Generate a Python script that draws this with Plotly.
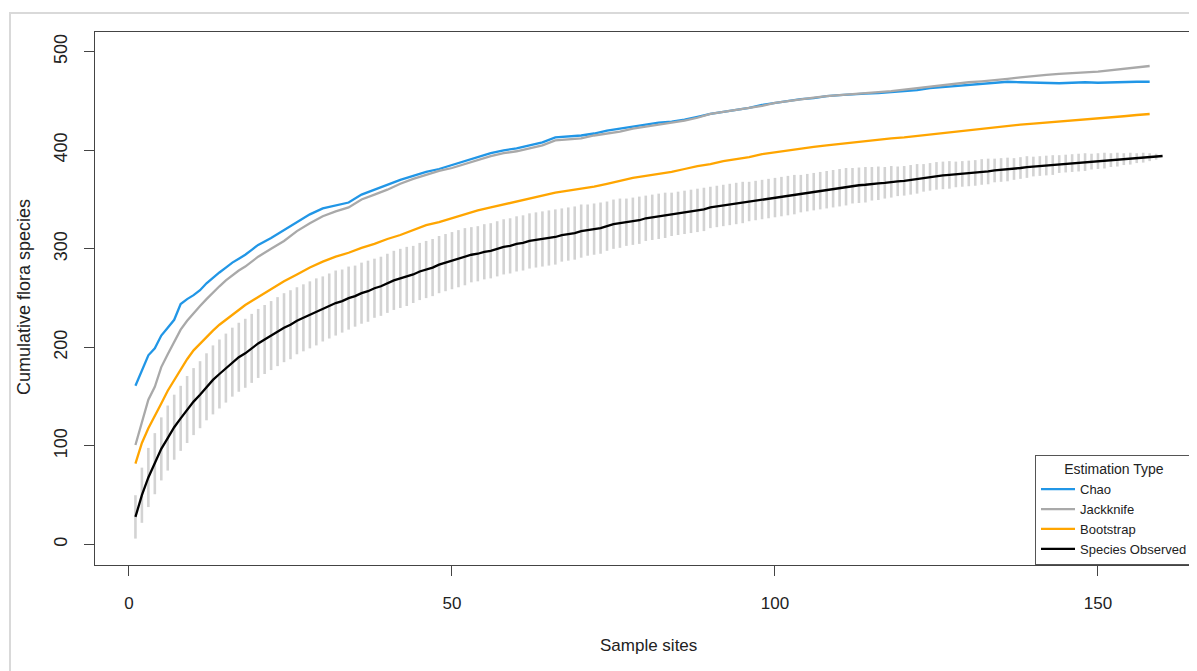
import plotly.graph_objects as go

# ---------------- data ----------------
obs_x = list(range(1, 161))
species_observed = [
    28, 50, 68, 82, 97, 108, 119, 128, 137, 145,
    152, 160, 167, 173, 179, 185, 190, 194, 199, 204,
    208, 212, 216, 220, 223, 227, 230, 233, 236, 239,
    242, 245, 247, 250, 252, 255, 257, 260, 262, 265,
    268, 270, 272, 274, 277, 279, 281, 284, 286, 288,
    290, 292, 294, 295, 297, 298, 300, 302, 303, 305,
    306, 308, 309, 310, 311, 312, 314, 315, 316, 318,
    319, 320, 321, 323, 325, 326, 327, 328, 329, 331,
    332, 333, 334, 335, 336, 337, 338, 339, 340, 342,
    343, 344, 345, 346, 347, 348, 349, 350, 351, 352,
    353, 354, 355, 356, 357, 358, 359, 360, 361, 362,
    363, 364, 364.5, 365, 366, 366.5, 367, 368, 368.5, 369,
    370, 371, 372, 373, 374, 374.5, 375, 375.5, 376, 376.5,
    377, 378, 378.5, 379.5, 380, 380.5, 381, 382, 383, 383.5,
    384, 384.5, 385, 386, 386.5, 387, 387.5, 388, 388.5, 389,
    389.5, 390, 390.5, 391, 391.5, 392, 392.5, 393, 393.5, 394.2,
]

# half-length of the grey interval bars (sites 1..159)
interval_half = [
    22, 28, 30, 31, 32, 33, 33, 33, 34, 34,
    34, 34, 35, 35, 35, 35, 35, 35, 35, 35,
    35, 35, 35, 35, 35, 34, 34, 34, 34, 33,
    33, 33, 32, 32, 31, 31, 31, 30, 30, 30,
    30, 30, 30, 29, 29, 29, 29, 29, 29, 29,
    29, 29, 28, 28, 28, 28, 28, 28, 28, 28,
    28, 28, 28, 28, 28, 28, 27, 27, 27, 27,
    26, 26, 26, 25, 25, 25, 24, 24, 24, 23,
    23, 23, 23, 22, 22, 22, 22, 22, 22, 21,
    21, 21, 21, 21, 21, 20, 20, 20, 20, 20,
    20, 20, 20, 19, 19, 19, 19, 19, 19, 19,
    19, 18, 18, 18, 17, 17, 16, 16, 15, 15,
    15, 15, 14, 14, 14, 14, 14, 13, 13, 13,
    13, 13, 13, 12, 12, 12, 11, 11, 11, 10,
    10, 10, 10, 9, 9, 9, 9, 9, 8, 8,
    8, 7, 7, 6, 6, 5, 5, 4, 3,
]

est_x = list(range(1, 21)) + list(range(22, 159, 2))
chao = [
    161, 177, 192, 199, 212, 220, 228, 244, 249, 253,
    258, 265, 271, 276, 281, 286, 290, 294, 299, 304,
    311, 319, 327, 335, 341, 344, 347, 355, 360, 365,
    370, 374, 378, 381, 385, 389, 393, 397, 400, 402,
    405, 408, 413, 414, 415, 417, 420, 422, 424, 426,
    428, 429, 431, 434, 437, 439, 441, 443, 446, 448,
    450, 452, 453, 455, 456, 457, 457.5, 458, 459, 460,
    461, 463, 464, 465, 466, 467, 468, 469.5, 469, 468.5,
    468, 468, 468.5, 469, 468.5, 469, 469.5, 469.5, 469.5,
]
jackknife = [
    101, 125, 147, 160, 180, 193, 205, 218, 227, 235,
    242, 249, 256, 262, 268, 273, 278, 282, 287, 292,
    300, 308, 318, 326, 333, 338, 342, 350, 355, 360,
    366, 371, 375, 379, 382, 386, 390, 394, 397, 399,
    402, 405, 410, 411, 412, 415, 417, 419, 422, 424,
    426, 428, 430, 433, 437, 439, 441, 443, 445, 448,
    450, 452, 453.5, 455, 456, 457, 458, 458.5, 460, 461.5,
    463, 465, 466, 467.5, 469, 470, 471, 472.5, 474, 475.5,
    476.5, 477.5, 478.5, 479, 479.7, 481, 482.5, 484, 485.5,
]
bootstrap = [
    82, 103, 118, 130, 143, 156, 167, 178, 188, 197,
    204, 211, 217, 223, 228, 233, 238, 243, 247, 251,
    259, 267, 274, 281, 287, 292, 296, 301, 305, 310,
    314, 319, 324, 327, 331, 335, 339, 342, 345, 348,
    351, 354, 357, 359, 361, 363, 366, 369, 372, 374,
    376, 378, 381, 384, 386, 389, 391, 393, 396, 398,
    400, 402, 403.5, 405, 406.5, 408, 409, 410.5, 412, 413,
    414.5, 416, 417, 418.5, 420, 421.5, 423, 424.5, 426, 427,
    428, 429, 430, 431, 432.4, 433.5, 434.5, 435.8, 436.8,
]

x_ticks = [0, 50, 100, 150]
y_ticks = [0, 100, 200, 300, 400, 500]

# ---------------- figure ----------------
FONT = "Liberation Sans, Arial, sans-serif"
TXT = "#222222"
OFF = 8  # page body margin offset

fig = go.Figure()

n_bar = len(interval_half)
fig.add_trace(go.Scatter(
    x=obs_x[:n_bar], y=species_observed[:n_bar], mode="markers",
    marker=dict(size=1, color="rgba(0,0,0,0)"),
    error_y=dict(type="data", array=interval_half, symmetric=True,
                 color="#d3d3d3", thickness=2.6, width=0),
    showlegend=False, hoverinfo="skip",
))

fig.add_trace(go.Scatter(x=obs_x, y=species_observed, mode="lines",
                         line=dict(color="#000000", width=2.3),
                         name="Species Observed", legendrank=4))
fig.add_trace(go.Scatter(x=est_x, y=chao, mode="lines",
                         line=dict(color="#2196E6", width=2.3),
                         name="Chao", legendrank=1))
fig.add_trace(go.Scatter(x=est_x, y=jackknife, mode="lines",
                         line=dict(color="#A9A9A9", width=2.3),
                         name="Jackknife", legendrank=2))
fig.add_trace(go.Scatter(x=est_x, y=bootstrap, mode="lines",
                         line=dict(color="#FFA500", width=2.3),
                         name="Bootstrap", legendrank=3))

W, H = 1197, 671
L = 95 - OFF
T = 32 - OFF
PLOT_BOTTOM = 565 - OFF
B = H - PLOT_BOTTOM
pw = W - L
ph = PLOT_BOTTOM - T

def px_x(p):  # page pixel -> paper
    return (p - OFF - L) / pw

def px_y(p):
    return (PLOT_BOTTOM - (p - OFF)) / ph

x_left = -5.26
x_right = x_left + pw / 6.46

fig.update_layout(
    width=W, height=H,
    margin=dict(l=L, r=0, t=T, b=B, autoexpand=False),
    paper_bgcolor="white", plot_bgcolor="white",
    font=dict(family=FONT, color=TXT),
    xaxis=dict(range=[x_left, x_right], tickvals=x_ticks, ticks="outside",
               ticklen=10, tickwidth=1.2, tickcolor="#444",
               showline=True, mirror=True, linecolor="#444", linewidth=1.3,
               showgrid=False, zeroline=False,
               tickfont=dict(size=17, color=TXT, family=FONT),
               ticklabelstandoff=12),
    yaxis=dict(range=[-20.8, 520], tickvals=y_ticks, ticks="outside",
               ticklen=10, tickwidth=1.2, tickcolor="#444",
               showline=True, mirror=False, linecolor="#444", linewidth=1.3,
               showgrid=False, zeroline=False, tickangle=-90,
               tickfont=dict(size=18, color=TXT, family=FONT),
               ticklabelstandoff=10),
    legend=dict(
        x=px_x(1035), y=0, xanchor="left", yanchor="bottom",
        bgcolor="white", bordercolor="#555", borderwidth=1,
        font=dict(size=13, color=TXT, family=FONT),
        itemwidth=34,
        title=dict(text="Estimation Type", side="top center",
                   font=dict(size=14, color=TXT, family=FONT)),
        traceorder="normal",
    ),
    annotations=[
        dict(text="Sample sites", xref="paper", yref="paper",
             x=px_x(648), y=px_y(645), xanchor="center", yanchor="middle",
             showarrow=False, font=dict(size=17, color=TXT, family=FONT)),
        dict(text="Cumulative flora species", xref="paper", yref="paper",
             x=px_x(24), y=px_y(297), xanchor="center", yanchor="middle",
             textangle=-90, showarrow=False,
             font=dict(size=18, color=TXT, family=FONT)),
    ],
    shapes=[
        dict(type="rect", xref="paper", yref="paper", layer="below",
             x0=px_x(10), x1=px_x(1260), y0=px_y(730), y1=px_y(13),
             line=dict(color="#d9d9d9", width=2), fillcolor="rgba(0,0,0,0)"),
    ],
)

fig.write_html("out.html")
